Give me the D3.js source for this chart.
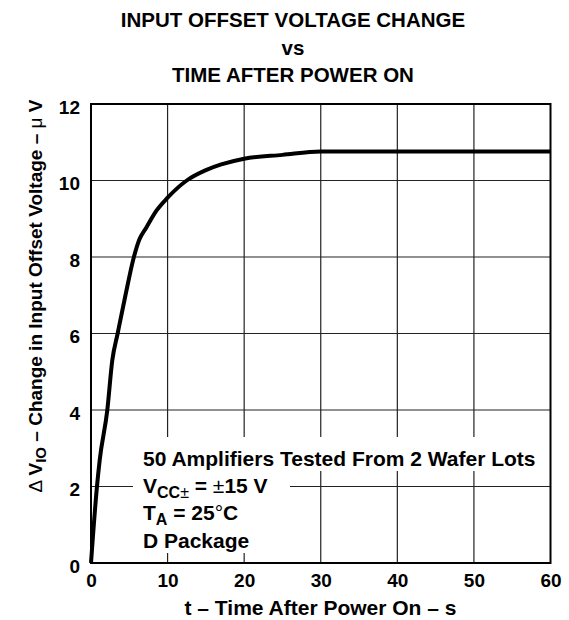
<!DOCTYPE html>
<html>
<head>
<meta charset="utf-8">
<script src="https://cdn.jsdelivr.net/npm/d3@7"></script>
<style>
  html, body { margin: 0; padding: 0; background: #fff; }
  svg { display: block; }
  text { font-family: "Liberation Sans", Arial, Helvetica, sans-serif; font-weight: bold; fill: #000; }
</style>
</head>
<body>
<svg id="chart" width="569" height="620"></svg>
<script>
// ---- data ----
const titleLines = ["INPUT OFFSET VOLTAGE CHANGE", "vs", "TIME AFTER POWER ON"];
const xTicks = [0, 10, 20, 30, 40, 50, 60];
const yTicks = [0, 2, 4, 6, 8, 10, 12];
const timeS = [0, 0.78, 1.13, 2.13, 2.78, 3.48, 4.5, 5.6, 6.3, 7.25, 8.5, 10, 12.5, 15, 17, 20, 25, 30, 40, 50, 60];
const deltaVio = [0, 2.0, 2.68, 4.0, 5.3, 6.0, 7.0, 8.0, 8.45, 8.78, 9.2, 9.55, 10.0, 10.27, 10.42, 10.57, 10.67, 10.76, 10.76, 10.76, 10.76];
const xTitle = "t \u2013 Time After Power On \u2013 s";

// ---- layout ----
const svg = d3.select("#chart");
const L = 91, R = 550.5, T = 104, B = 563;
const x = d3.scaleLinear().domain([0, 60]).range([L, R]);
const y = d3.scaleLinear().domain([0, 12]).range([B, T]);
const FONT = "'Liberation Sans', Arial, sans-serif";

// grid
const g = svg.append("g");
g.selectAll("line.vx").data(xTicks.slice(1, -1)).join("line")
  .attr("x1", d => x(d)).attr("x2", d => x(d))
  .attr("y1", T).attr("y2", B)
  .attr("stroke", "#222").attr("stroke-width", 1.2);
g.selectAll("line.hy").data(yTicks.slice(1, -1)).join("line")
  .attr("x1", L).attr("x2", R)
  .attr("y1", d => y(d)).attr("y2", d => y(d))
  .attr("stroke", "#222").attr("stroke-width", 1.2);

// white boxes behind annotation
svg.append("rect").attr("x", 133).attr("y", 437).attr("width", 412).attr("height", 34).attr("fill", "#fff");
svg.append("rect").attr("x", 133).attr("y", 470).attr("width", 157).attr("height", 83).attr("fill", "#fff");

// frame
svg.append("rect").attr("x", L).attr("y", T).attr("width", R - L).attr("height", B - T)
  .attr("fill", "none").attr("stroke", "#000").attr("stroke-width", 2);

// curve
const pts = timeS.map((t, i) => [t, deltaVio[i]]);
svg.append("path").datum(pts)
  .attr("d", d3.line().x(d => x(d[0])).y(d => y(d[1])).curve(d3.curveMonotoneX))
  .attr("fill", "none").attr("stroke", "#000").attr("stroke-width", 4)
  .attr("stroke-linejoin", "round").attr("stroke-linecap", "butt");

// axes labels
const xAxis = d3.axisBottom(x).tickValues(xTicks).tickSize(0).tickPadding(0);
const xg = svg.append("g").attr("transform", `translate(0,${B})`).call(xAxis);
xg.select(".domain").remove();
xg.selectAll("text").attr("dy", null).attr("y", 24).style("font-size", "19px")
  .style("font-family", FONT).style("font-weight", "bold").attr("fill", "#000");

const yAxis = d3.axisLeft(y).tickValues(yTicks).tickSize(0).tickPadding(0);
const yg = svg.append("g").attr("transform", `translate(80,0)`).call(yAxis);
yg.select(".domain").remove();
yg.selectAll("text").attr("dy", null).attr("x", 0).attr("y", 9).style("font-size", "19px")
  .style("font-family", FONT).style("font-weight", "bold").attr("fill", "#000");

// title
svg.selectAll("text.title").data(titleLines).join("text")
  .attr("class", "title")
  .attr("x", 293).attr("y", (d, i) => [27, 54.5, 82][i])
  .attr("text-anchor", "middle").style("font-size", "20.5px").text(d => d);

// x title
svg.append("text").attr("x", 320.5).attr("y", 615).attr("text-anchor", "middle")
  .style("font-size", "21px").text(xTitle);

// y title
const yt = svg.append("text").attr("transform", "translate(42,296) rotate(-90)")
  .attr("text-anchor", "middle").style("font-size", "19px");
yt.append("tspan").style("font-weight", "normal").text("\u0394 ");
yt.append("tspan").text("V");
yt.append("tspan").attr("dy", 4).style("font-size", "15px").text("IO");
yt.append("tspan").attr("dy", -4).text(" \u2013 Change in Input Offset Voltage \u2013 ");
yt.append("tspan").style("font-weight", "normal").text("\u03BC");
yt.append("tspan").text(" V");

// annotation
const ax = 143, fs = "21px";
svg.append("text").attr("x", ax).attr("y", 466).style("font-size", fs)
  .text("50 Amplifiers Tested From 2 Wafer Lots");
const l2 = svg.append("text").attr("x", ax).attr("y", 492.5).style("font-size", fs);
l2.append("tspan").text("V");
l2.append("tspan").attr("dy", 5).style("font-size", "16px").text("CC");
l2.append("tspan").style("font-size", "16px").style("font-weight", "normal").text("\u00B1");
l2.append("tspan").attr("dy", -5).text(" = ");
l2.append("tspan").style("font-weight", "normal").text("\u00B1");
l2.append("tspan").text("15 V");
const l3 = svg.append("text").attr("x", ax).attr("y", 520).style("font-size", fs);
l3.append("tspan").text("T");
l3.append("tspan").attr("dy", 5).style("font-size", "16px").text("A");
l3.append("tspan").attr("dy", -5).text(" = 25");
l3.append("tspan").style("font-weight", "normal").text("\u00B0");
l3.append("tspan").text("C");
svg.append("text").attr("x", ax).attr("y", 548).style("font-size", fs).text("D Package");
</script>
</body>
</html>
